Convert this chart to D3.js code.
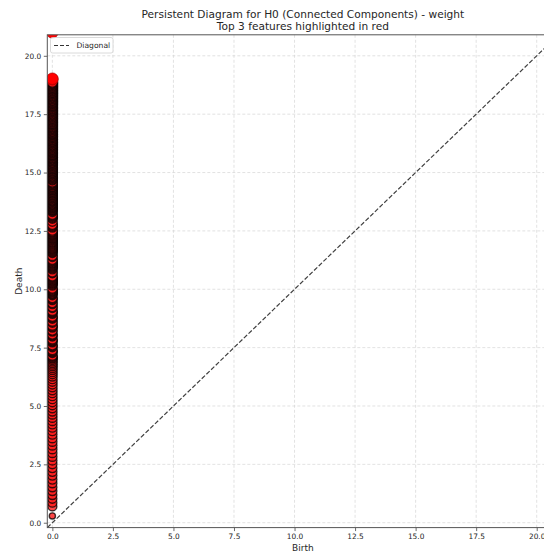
<!DOCTYPE html>
<html>
<head>
<meta charset="utf-8">
<script src="https://cdn.jsdelivr.net/npm/d3@7"></script>
<style>
  html, body { margin: 0; padding: 0; background: #fff; }
  svg { display: block; overflow: hidden; }
  text { font-family: "DejaVu Sans", sans-serif; }
</style>
</head>
<body>
<svg id="chart" width="544" height="553"></svg>
<script>
// ---------------- data ----------------
const titleLines = ["Persistent Diagram for H0 (Connected Components) - weight", "Top 3 features highlighted in red"];
const xLabel = "Birth";
const yLabel = "Death";
const legendLabel = "Diagonal";
const xTicks = [0, 2.5, 5, 7.5, 10, 12.5, 15, 17.5, 20];
const yTicks = [0, 2.5, 5, 7.5, 10, 12.5, 15, 17.5, 20];
const axisMin = -0.209;
const axisMax = 20.9;
const pointBirth = 0;

// deaths of the H0 features (all born at 0), ascending
const normalDeaths = [
  0.29,
  0.70, 0.86, 1.03, 1.19, 1.36, 1.52, 1.69, 1.85, 2.02, 2.18, 2.34, 2.51, 2.67, 2.83, 2.99, 3.15, 3.31, 3.47, 3.62, 3.78,
  3.93, 4.08, 4.22, 4.36, 4.50, 4.64, 4.77, 4.91, 5.04, 5.17, 5.30, 5.43, 5.56, 5.68, 5.81, 5.93, 6.05, 6.16, 6.27, 6.37,
  6.46, 6.55, 6.63, 6.71, 6.78, 6.85, 6.92, 6.98,
  7.04, 7.08, 7.12, 7.16, 7.28, 7.32, 7.36, 7.40, 7.53, 7.57, 7.61, 7.74, 7.78, 7.82, 7.86, 7.99, 8.03, 8.07, 8.20, 8.24,
  8.37, 8.41, 8.45, 8.58, 8.62, 8.75, 8.79, 8.83, 8.96, 9.00, 9.04, 9.08, 9.21, 9.25, 9.38, 9.42, 9.55, 9.59, 9.63, 9.76,
  9.80, 9.84, 9.88, 9.92, 9.96, 10.00, 10.04, 10.17, 10.21, 10.25, 10.29, 10.33, 10.37, 10.41, 10.45, 10.49, 10.53, 10.57,
  10.70, 10.74, 10.87, 10.91, 10.95, 10.99, 11.03, 11.07, 11.11, 11.15, 11.19, 11.23, 11.27, 11.40, 11.44, 11.57, 11.61,
  11.65, 11.69, 11.73, 11.77, 11.81, 11.85, 11.89, 11.93, 11.97, 12.01, 12.05, 12.09, 12.13, 12.17, 12.21, 12.25, 12.29,
  12.33, 12.37, 12.41, 12.45, 12.49, 12.53, 12.66, 12.70, 12.74, 12.78, 12.91, 13.04, 13.08, 13.12, 13.16, 13.20,
  13.33, 13.37, 13.41, 13.44, 13.48, 13.51, 13.55, 13.58, 13.62, 13.65, 13.69, 13.72, 13.76, 13.79, 13.83, 13.86, 13.90,
  13.93, 13.97, 14.00, 14.04, 14.07, 14.11, 14.14, 14.18, 14.21, 14.25, 14.28, 14.32, 14.35, 14.39, 14.42, 14.46, 14.49,
  14.53, 14.56, 14.60, 14.68, 14.72, 14.75, 14.79, 14.82, 14.86, 14.89, 14.93, 14.96, 15.00, 15.03, 15.07, 15.10, 15.14,
  15.17, 15.21, 15.24, 15.28, 15.31, 15.35, 15.38, 15.42, 15.45, 15.49, 15.52, 15.56, 15.59, 15.63, 15.66, 15.70, 15.73,
  15.77, 15.80, 15.84, 15.87, 15.91, 15.94, 15.98, 16.01, 16.05, 16.08, 16.12, 16.15, 16.19, 16.22, 16.26, 16.29, 16.33,
  16.36, 16.40, 16.43, 16.47, 16.50, 16.54, 16.57, 16.61, 16.64, 16.68, 16.71, 16.75, 16.78, 16.82, 16.85, 16.89, 16.92,
  16.96, 16.99, 17.03, 17.06, 17.10, 17.13, 17.17, 17.20, 17.24, 17.27, 17.31, 17.34, 17.38, 17.41, 17.45, 17.48, 17.52,
  17.55, 17.59, 17.62, 17.66, 17.69, 17.73, 17.76, 17.80, 17.83, 17.87, 17.90, 17.94, 17.97, 18.01, 18.04, 18.08, 18.11,
  18.15, 18.18, 18.22, 18.25, 18.29, 18.32, 18.36, 18.39, 18.43, 18.46, 18.50, 18.53, 18.57, 18.60, 18.64, 18.67, 18.71,
  18.74, 18.78, 18.81, 18.85, 18.88
];
// top-3 most persistent features (the infinite one is drawn at the top edge)
const topDeaths = [18.99, 19.02, 21.0];

// ---------------- drawing ----------------
const svg = d3.select("#chart");
const plot = { left: 47.3, right: 558.5, top: 34.8, bottom: 527.6 };

const x = d3.scaleLinear().domain([axisMin, axisMax]).range([plot.left, plot.right]);
const y = d3.scaleLinear().domain([axisMin, axisMax]).range([plot.bottom, plot.top]);
const r = d3.scaleLinear().domain([0.29, 0.7, 19]).range([3.1, 4.5, 5.2]).clamp(true);

svg.append("defs").append("clipPath").attr("id", "clip")
  .append("rect")
  .attr("x", plot.left).attr("y", plot.top)
  .attr("width", plot.right - plot.left).attr("height", plot.bottom - plot.top);

// grid
const grid = svg.append("g");
grid.selectAll("line.gx").data(xTicks).join("line")
  .attr("x1", d => x(d)).attr("x2", d => x(d))
  .attr("y1", plot.top).attr("y2", plot.bottom)
  .attr("stroke", "#d6d6d6").attr("stroke-width", 0.7).attr("stroke-dasharray", "3,2");
grid.selectAll("line.gy").data(yTicks).join("line")
  .attr("y1", d => y(d)).attr("y2", d => y(d))
  .attr("x1", plot.left).attr("x2", plot.right)
  .attr("stroke", "#d6d6d6").attr("stroke-width", 0.7).attr("stroke-dasharray", "3,2");

// diagonal
svg.append("line")
  .attr("x1", x(axisMin)).attr("y1", y(axisMin))
  .attr("x2", x(axisMax)).attr("y2", y(axisMax))
  .attr("stroke", "#404040")
  .attr("stroke-width", 1.2).attr("stroke-dasharray", "4.5,2");

// points
const pts = svg.append("g").attr("clip-path", "url(#clip)");
pts.selectAll("circle.n").data(normalDeaths).join("circle")
  .attr("class", "n")
  .attr("cx", x(pointBirth)).attr("cy", d => y(d)).attr("r", d => r(d))
  .attr("fill", "#ff1a1a").attr("fill-opacity", 0.8)
  .attr("stroke", "black").attr("stroke-opacity", 0.75).attr("stroke-width", 1.4);
pts.selectAll("circle.t").data(topDeaths).join("circle")
  .attr("class", "t")
  .attr("cx", x(pointBirth)).attr("cy", d => y(d)).attr("r", 5.8)
  .attr("fill", "red").attr("stroke", "#a00000").attr("stroke-width", 0.6);

// axes
const xAxis = d3.axisBottom(x).tickValues(xTicks).tickFormat(d3.format(".1f")).tickSize(3.5).tickPadding(2.5);
const yAxis = d3.axisLeft(y).tickValues(yTicks).tickFormat(d3.format(".1f")).tickSize(3.5).tickPadding(2.5);
const gx = svg.append("g").attr("transform", `translate(0,${plot.bottom})`).call(xAxis);
const gy = svg.append("g").attr("transform", `translate(${plot.left},0)`).call(yAxis);
[gx, gy].forEach(g => {
  g.select(".domain").remove();
  g.selectAll(".tick line").attr("stroke", "#444").attr("stroke-width", 0.8);
  g.selectAll(".tick text").attr("font-size", 7.4).attr("fill", "#262626")
    .attr("font-family", "DejaVu Sans, sans-serif");
});

// spines
svg.append("rect")
  .attr("x", plot.left).attr("y", plot.top)
  .attr("width", plot.right - plot.left).attr("height", plot.bottom - plot.top)
  .attr("fill", "none").attr("stroke", "#555").attr("stroke-width", 1);

// legend
const lg = svg.append("g");
lg.append("rect").attr("x", 50.5).attr("y", 37.5).attr("width", 62.5).attr("height", 15.5).attr("rx", 2)
  .attr("fill", "white").attr("fill-opacity", 0.85).attr("stroke", "#d0d0d0").attr("stroke-width", 0.8);
lg.append("line").attr("x1", 54).attr("x2", 69).attr("y1", 45.5).attr("y2", 45.5)
  .attr("stroke", "#333").attr("stroke-width", 1).attr("stroke-dasharray", "4,2");
lg.append("text").attr("x", 76.5).attr("y", 48.3).attr("font-size", 7.6).attr("fill", "#262626").text(legendLabel);

// titles and labels
svg.append("g").selectAll("text").data(titleLines).join("text")
  .attr("x", (plot.left + plot.right) / 2).attr("y", (d, i) => 17.6 + i * 12)
  .attr("text-anchor", "middle").attr("font-size", 10.6).attr("fill", "#262626").text(d => d);
svg.append("text").attr("x", (plot.left + plot.right) / 2).attr("y", 551.3)
  .attr("text-anchor", "middle").attr("font-size", 9).attr("fill", "#262626").text(xLabel);
svg.append("text").attr("transform", `translate(21.5,${(plot.top + plot.bottom) / 2}) rotate(-90)`)
  .attr("text-anchor", "middle").attr("font-size", 9).attr("fill", "#262626").text(yLabel);
</script>
</body>
</html>
